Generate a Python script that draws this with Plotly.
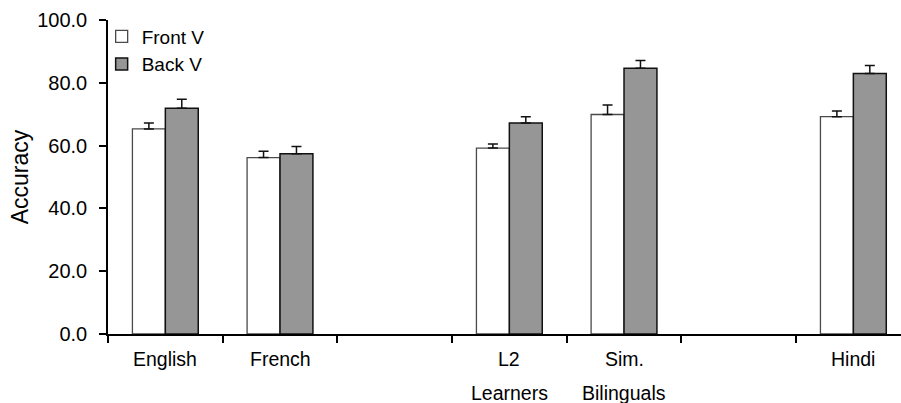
import plotly.graph_objects as go

# Groups along the x axis; empty slots separate the speaker groups
group_labels = ["English", "French", "", "L2<br>Learners", "Sim.<br>Bilinguals", "", "Hindi"]
bar_groups = ["English", "French", "L2<br>Learners", "Sim.<br>Bilinguals", "Hindi"]

front_v = [65.3, 56.2, 59.2, 69.9, 69.2]
front_v_err = [1.9, 2.0, 1.3, 3.0, 1.8]
back_v = [71.9, 57.4, 67.2, 84.6, 83.0]
back_v_err = [2.9, 2.3, 2.0, 2.5, 2.5]

y_ticks = [0, 20, 40, 60, 80, 100]

FONT = "Liberation Sans, Arial, Helvetica, sans-serif"
SLOT_PX = 114.67          # width of one x slot in pixels
PLOT_W = 901 - 108

xpos = [group_labels.index(g) for g in bar_groups]
boundaries = [i - 0.5 for i in range(len(group_labels) + 1)]

fig = go.Figure()
fig.add_trace(go.Bar(
    name="Front V", x=xpos, y=front_v,
    marker=dict(color="white", line=dict(color="#4a4a4a", width=1.3)),
    error_y=dict(type="data", symmetric=False, array=front_v_err,
                 arrayminus=[0] * len(front_v_err),
                 color="#111111", thickness=1.5, width=5),
))
fig.add_trace(go.Bar(
    name="Back V", x=xpos, y=back_v,
    marker=dict(color="#969696", line=dict(color="#111111", width=1.5)),
    error_y=dict(type="data", symmetric=False, array=back_v_err,
                 arrayminus=[0] * len(back_v_err),
                 color="#111111", thickness=1.5, width=5),
))

# Group names under the axis, one annotation per text line
annotations = []
for i, lab in enumerate(group_labels):
    if not lab:
        continue
    for j, line in enumerate(lab.split("<br>")):
        annotations.append(dict(
            x=i, y=-0.0803 - 0.1075 * j, xref="x", yref="paper",
            text=line, showarrow=False, xanchor="center", yanchor="middle",
            font=dict(family=FONT, size=19.5, color="black"),
        ))

fig.update_layout(
    width=901, height=403,
    margin=dict(l=108, r=0, t=20, b=69),
    paper_bgcolor="white", plot_bgcolor="white",
    barmode="group", bargap=0.426, bargroupgap=0,
    font=dict(family=FONT, size=19, color="black"),
    showlegend=True,
    legend=dict(x=-0.008, y=1.008, xanchor="left", yanchor="top",
                bgcolor="rgba(0,0,0,0)", borderwidth=0,
                font=dict(family=FONT, size=19, color="black"),
                traceorder="normal"),
    annotations=annotations,
    xaxis=dict(
        range=[-0.5, -0.5 + PLOT_W / SLOT_PX],
        tickmode="array", tickvals=boundaries, ticktext=[""] * len(boundaries),
        ticks="outside", ticklen=7, tickwidth=1.5, tickcolor="black",
        showline=True, linecolor="black", linewidth=1.5,
        showgrid=False, zeroline=False, fixedrange=True,
    ),
    yaxis=dict(
        range=[0, 100], tickmode="array", tickvals=y_ticks, tickformat=".1f",
        ticks="outside", ticklen=7, tickwidth=1.5, tickcolor="black",
        ticklabelstandoff=8,
        showline=True, linecolor="black", linewidth=1.5,
        showgrid=False, zeroline=False,
        tickfont=dict(family=FONT, size=20, color="black"),
        title=dict(text="Accuracy", font=dict(family=FONT, size=23, color="black"),
                   standoff=2),
    ),
)

fig.write_html("out.html")
